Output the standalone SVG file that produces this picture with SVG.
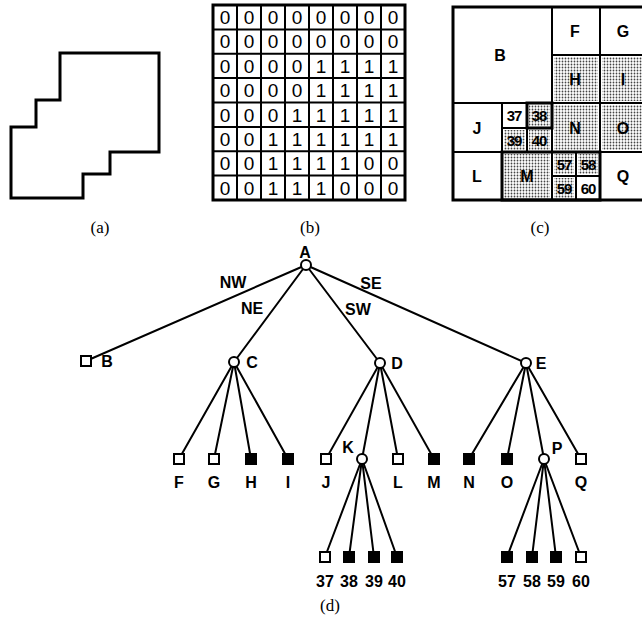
<svg xmlns="http://www.w3.org/2000/svg" width="642" height="619" viewBox="0 0 642 619">
<style>
.ln{stroke:#000;stroke-width:2;fill:none;stroke-linecap:round}
.wc{fill:#fff;stroke:#000;stroke-width:2}
.ws{fill:#fff;stroke:#000;stroke-width:2}
.bs{fill:#000;stroke:#000;stroke-width:2}
.t{font-family:"Liberation Sans",Arial,sans-serif;font-weight:bold;font-size:16px;fill:#000;text-anchor:middle}
.g{font-family:"Liberation Sans",Arial,sans-serif;font-size:19px;fill:#000;text-anchor:middle}
.c{font-family:"Liberation Sans",Arial,sans-serif;font-weight:bold;font-size:15px;fill:#000;text-anchor:middle}
.cl{font-size:16px}
.cap{font-family:"Liberation Serif","Times New Roman",serif;font-size:17px;fill:#000;text-anchor:middle}
.cell{fill:#fff;stroke:#000;stroke-width:2}
.sh{fill:url(#dots)}
</style>
<defs>
<pattern id="dots" width="3" height="3" patternUnits="userSpaceOnUse">
<rect width="3" height="3" fill="#fff"/>
<circle cx="1.5" cy="1.5" r="0.9" fill="#444"/>
</pattern>
</defs>

<!-- (a) region -->
<g id="panel-a">
<polygon points="60,53 159,53 159,152 110,152 110,174 83,174 83,198 11,198 11,127 36,127 36,100 60,100" fill="none" stroke="#000" stroke-width="3"/>
<text class="cap" x="100" y="233">(a)</text>
</g>

<!-- (b) binary array -->
<g id="panel-b">
<g stroke="#000" stroke-width="2">
<line x1="237" y1="5" x2="237" y2="200"/><line x1="261" y1="5" x2="261" y2="200"/><line x1="285" y1="5" x2="285" y2="200"/><line x1="309" y1="5" x2="309" y2="200"/><line x1="333" y1="5" x2="333" y2="200"/><line x1="357" y1="5" x2="357" y2="200"/><line x1="381" y1="5" x2="381" y2="200"/>
<line x1="213" y1="29.4" x2="405" y2="29.4"/><line x1="213" y1="53.8" x2="405" y2="53.8"/><line x1="213" y1="78.1" x2="405" y2="78.1"/><line x1="213" y1="102.5" x2="405" y2="102.5"/><line x1="213" y1="126.9" x2="405" y2="126.9"/><line x1="213" y1="151.3" x2="405" y2="151.3"/><line x1="213" y1="175.6" x2="405" y2="175.6"/>
</g>
<rect x="213" y="5" width="192" height="195" fill="none" stroke="#000" stroke-width="3"/>
<g class="g">
<text x="225" y="24">0</text><text x="249" y="24">0</text><text x="273" y="24">0</text><text x="297" y="24">0</text><text x="321" y="24">0</text><text x="345" y="24">0</text><text x="369" y="24">0</text><text x="393" y="24">0</text>
<text x="225" y="48">0</text><text x="249" y="48">0</text><text x="273" y="48">0</text><text x="297" y="48">0</text><text x="321" y="48">0</text><text x="345" y="48">0</text><text x="369" y="48">0</text><text x="393" y="48">0</text>
<text x="225" y="73">0</text><text x="249" y="73">0</text><text x="273" y="73">0</text><text x="297" y="73">0</text><text x="321" y="73">1</text><text x="345" y="73">1</text><text x="369" y="73">1</text><text x="393" y="73">1</text>
<text x="225" y="97">0</text><text x="249" y="97">0</text><text x="273" y="97">0</text><text x="297" y="97">0</text><text x="321" y="97">1</text><text x="345" y="97">1</text><text x="369" y="97">1</text><text x="393" y="97">1</text>
<text x="225" y="122">0</text><text x="249" y="122">0</text><text x="273" y="122">0</text><text x="297" y="122">1</text><text x="321" y="122">1</text><text x="345" y="122">1</text><text x="369" y="122">1</text><text x="393" y="122">1</text>
<text x="225" y="146">0</text><text x="249" y="146">0</text><text x="273" y="146">1</text><text x="297" y="146">1</text><text x="321" y="146">1</text><text x="345" y="146">1</text><text x="369" y="146">1</text><text x="393" y="146">1</text>
<text x="225" y="170">0</text><text x="249" y="170">0</text><text x="273" y="170">1</text><text x="297" y="170">1</text><text x="321" y="170">1</text><text x="345" y="170">1</text><text x="369" y="170">0</text><text x="393" y="170">0</text>
<text x="225" y="195">0</text><text x="249" y="195">0</text><text x="273" y="195">1</text><text x="297" y="195">1</text><text x="321" y="195">1</text><text x="345" y="195">0</text><text x="369" y="195">0</text><text x="393" y="195">0</text>
</g>
<text class="cap" x="310" y="233">(b)</text>
</g>

<!-- (c) block decomposition -->
<g id="panel-c">
<rect class="cell" x="453" y="7" width="99" height="96"/>
<rect class="cell" x="552" y="7" width="48" height="48"/>
<rect class="cell" x="600" y="7" width="48" height="48"/>
<rect class="cell" x="552" y="55" width="48" height="48"/><rect class="sh" x="554" y="57" width="44" height="44"/>
<rect class="cell" x="600" y="55" width="48" height="48"/><rect class="sh" x="602" y="57" width="44" height="44"/>
<rect class="cell" x="453" y="103" width="49" height="49"/>
<rect class="cell" x="502" y="103" width="25" height="25"/>
<rect class="cell" x="527" y="103" width="25" height="25"/><rect class="sh" x="529" y="105" width="21" height="21"/>
<rect class="cell" x="502" y="128" width="25" height="24"/><rect class="sh" x="504" y="130" width="21" height="20"/>
<rect class="cell" x="527" y="128" width="25" height="24"/><rect class="sh" x="529" y="130" width="21" height="20"/>
<rect class="cell" x="552" y="103" width="48" height="49"/><rect class="sh" x="554" y="105" width="44" height="45"/>
<rect class="cell" x="600" y="103" width="48" height="49"/><rect class="sh" x="602" y="105" width="44" height="45"/>
<rect class="cell" x="453" y="152" width="49" height="48"/>
<rect class="cell" x="502" y="152" width="50" height="48"/><rect class="sh" x="504" y="154" width="46" height="44"/>
<rect class="cell" x="552" y="152" width="24" height="24"/><rect class="sh" x="554" y="154" width="20" height="20"/>
<rect class="cell" x="576" y="152" width="24" height="24"/><rect class="sh" x="578" y="154" width="20" height="20"/>
<rect class="cell" x="552" y="176" width="24" height="24"/><rect class="sh" x="554" y="178" width="20" height="20"/>
<rect class="cell" x="576" y="176" width="24" height="24"/>
<rect class="cell" x="600" y="152" width="48" height="48"/>
<rect x="527" y="103" width="25" height="25" fill="none" stroke="#000" stroke-width="3"/>
<rect x="502" y="152" width="98" height="48" fill="none" stroke="#000" stroke-width="3"/>
<rect x="453" y="7" width="195" height="193" fill="none" stroke="#000" stroke-width="3"/>
<g class="c">
<text class="cl" x="500" y="61">B</text>
<text class="cl" x="575" y="37">F</text><text class="cl" x="623" y="37">G</text>
<text class="cl" x="575" y="85">H</text><text class="cl" x="623" y="85">I</text>
<text class="cl" x="477" y="134">J</text>
<text x="514" y="121" letter-spacing="-1">37</text><text x="539" y="121" letter-spacing="-1">38</text>
<text x="514" y="146" letter-spacing="-1">39</text><text x="539" y="146" letter-spacing="-1">40</text>
<text class="cl" x="575" y="134">N</text><text class="cl" x="623" y="134">O</text>
<text class="cl" x="477" y="182">L</text><text class="cl" x="527" y="182">M</text>
<text x="564" y="170" letter-spacing="-1">57</text><text x="588" y="170" letter-spacing="-1">58</text>
<text x="564" y="194" letter-spacing="-1">59</text><text x="588" y="194" letter-spacing="-1">60</text>
<text class="cl" x="623" y="182">Q</text>
</g>
<text class="cap" x="540" y="233">(c)</text>
</g>

<!-- (d) quadtree -->
<g id="connectors" class="ln">
<line x1="306" y1="265" x2="86" y2="361"/>
<line x1="306" y1="265" x2="234" y2="362"/>
<line x1="306" y1="265" x2="380" y2="363"/>
<line x1="306" y1="265" x2="526" y2="363"/>
<line x1="234" y1="362" x2="179" y2="459"/>
<line x1="234" y1="362" x2="214" y2="459"/>
<line x1="234" y1="362" x2="251" y2="459"/>
<line x1="234" y1="362" x2="288" y2="459"/>
<line x1="380" y1="363" x2="326" y2="459"/>
<line x1="380" y1="363" x2="362" y2="459"/>
<line x1="380" y1="363" x2="398" y2="459"/>
<line x1="380" y1="363" x2="434" y2="459"/>
<line x1="526" y1="363" x2="469" y2="459"/>
<line x1="526" y1="363" x2="507" y2="459"/>
<line x1="526" y1="363" x2="544" y2="459"/>
<line x1="526" y1="363" x2="581" y2="459"/>
<line x1="362" y1="459" x2="325" y2="557"/>
<line x1="362" y1="459" x2="349" y2="557"/>
<line x1="362" y1="459" x2="374" y2="557"/>
<line x1="362" y1="459" x2="397" y2="557"/>
<line x1="544" y1="459" x2="507" y2="557"/>
<line x1="544" y1="459" x2="532" y2="557"/>
<line x1="544" y1="459" x2="556" y2="557"/>
<line x1="544" y1="459" x2="581" y2="557"/>
</g>
<g id="edge-labels" class="t">
<text x="233" y="288">NW</text>
<text x="252" y="314">NE</text>
<text x="358" y="315">SW</text>
<text x="371" y="289">SE</text>
</g>
<g id="node-A"><circle class="wc" cx="306" cy="265" r="5"/><text class="t" x="305" y="258">A</text></g>
<g id="node-B"><rect class="ws" x="81" y="356" width="10" height="10"/><text class="t" x="107" y="367">B</text></g>
<g id="node-C"><circle class="wc" cx="234" cy="362" r="5"/><text class="t" x="252" y="368">C</text></g>
<g id="node-D"><circle class="wc" cx="380" cy="363" r="5"/><text class="t" x="397" y="369">D</text></g>
<g id="node-E"><circle class="wc" cx="526" cy="363" r="5"/><text class="t" x="541" y="369">E</text></g>
<g id="node-F"><rect class="ws" x="174" y="454" width="10" height="10"/><text class="t" x="179" y="488">F</text></g>
<g id="node-G"><rect class="ws" x="209" y="454" width="10" height="10"/><text class="t" x="214" y="488">G</text></g>
<g id="node-H"><rect class="bs" x="246" y="454" width="10" height="10"/><text class="t" x="251" y="488">H</text></g>
<g id="node-I"><rect class="bs" x="283" y="454" width="10" height="10"/><text class="t" x="288" y="488">I</text></g>
<g id="node-J"><rect class="ws" x="321" y="454" width="10" height="10"/><text class="t" x="326" y="488">J</text></g>
<g id="node-K"><circle class="wc" cx="362" cy="459" r="5"/><text class="t" x="348" y="453">K</text></g>
<g id="node-L"><rect class="ws" x="393" y="454" width="10" height="10"/><text class="t" x="398" y="488">L</text></g>
<g id="node-M"><rect class="bs" x="429" y="454" width="10" height="10"/><text class="t" x="434" y="488">M</text></g>
<g id="node-N"><rect class="bs" x="464" y="454" width="10" height="10"/><text class="t" x="469" y="488">N</text></g>
<g id="node-O"><rect class="bs" x="502" y="454" width="10" height="10"/><text class="t" x="507" y="488">O</text></g>
<g id="node-P"><circle class="wc" cx="544" cy="459" r="5"/><text class="t" x="557" y="454">P</text></g>
<g id="node-Q"><rect class="ws" x="576" y="454" width="10" height="10"/><text class="t" x="581" y="488">Q</text></g>
<g id="node-37"><rect class="ws" x="320" y="552" width="10" height="10"/><text class="t" x="325" y="587">37</text></g>
<g id="node-38"><rect class="bs" x="344" y="552" width="10" height="10"/><text class="t" x="349" y="587">38</text></g>
<g id="node-39"><rect class="bs" x="369" y="552" width="10" height="10"/><text class="t" x="374" y="587">39</text></g>
<g id="node-40"><rect class="bs" x="392" y="552" width="10" height="10"/><text class="t" x="397" y="587">40</text></g>
<g id="node-57"><rect class="bs" x="502" y="552" width="10" height="10"/><text class="t" x="507" y="587">57</text></g>
<g id="node-58"><rect class="bs" x="527" y="552" width="10" height="10"/><text class="t" x="532" y="587">58</text></g>
<g id="node-59"><rect class="bs" x="551" y="552" width="10" height="10"/><text class="t" x="556" y="587">59</text></g>
<g id="node-60"><rect class="ws" x="576" y="552" width="10" height="10"/><text class="t" x="581" y="587">60</text></g>
<text class="cap" x="330" y="611">(d)</text>
</svg>
